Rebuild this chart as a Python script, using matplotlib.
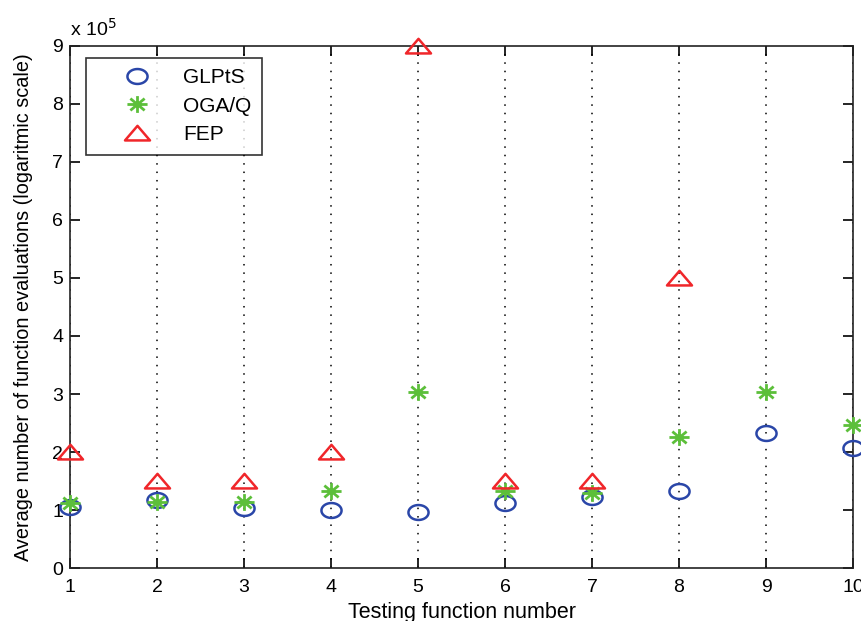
import numpy as np
import matplotlib.pyplot as plt
from matplotlib.path import Path
from matplotlib.ticker import FuncFormatter

plt.rcParams['font.family'] = ['Liberation Sans', 'DejaVu Sans']

# --- Data (average number of function evaluations) ---
functions = [1, 2, 3, 4, 5, 6, 7, 8, 9, 10]
glpts = [105000, 117000, 103000, 100000, 97000, 112000, 122000, 133000, 233000, 207000]
ogaq = [112000, 114000, 114000, 133000, 303000, 132000, 130000, 226000, 303000, 247000]
fep_x = [1, 2, 3, 4, 5, 6, 7, 8]
fep = [200000, 150000, 150000, 200000, 900000, 150000, 150000, 500000]

# MATLAB-ish markers, a bit wider than tall like in the original export
t = np.linspace(0, 2 * np.pi, 40)
ellipse = Path(np.column_stack([1.35 * np.cos(t), np.sin(t)]), closed=True)

star_verts, star_codes = [], []
for a in np.arange(4) * np.pi / 4:
    star_verts += [(-1.2 * np.cos(a), -np.sin(a)), (1.2 * np.cos(a), np.sin(a))]
    star_codes += [Path.MOVETO, Path.LINETO]
asterisk = Path(star_verts, star_codes)

triangle = Path([(0, 0.55), (-0.9, -0.5), (0.9, -0.5), (0, 0.55)], closed=True)

fig = plt.figure(figsize=(8.62, 6.21), dpi=100)
ax = fig.add_axes([0.0812, 0.0853, 0.9084, 0.8407])

ax.plot(functions, glpts, linestyle='None', marker=ellipse, markersize=14.5,
        markerfacecolor='none', markeredgecolor='#2a46a8', markeredgewidth=1.8,
        label='GLPtS', clip_on=False, zorder=3)
ax.plot(functions, ogaq, linestyle='None', marker=asterisk, markersize=14.5,
        markeredgecolor='#5cbf3a', markeredgewidth=2.0,
        label='OGA/Q', clip_on=False, zorder=3)
ax.plot(fep_x, fep, linestyle='None', marker=triangle, markersize=18,
        markerfacecolor='none', markeredgecolor='#f0262a', markeredgewidth=1.8,
        label='FEP', clip_on=False, zorder=3)

# --- Axes styling (MATLAB-like) ---
ax.set_xlim(1, 10)
ax.set_ylim(0, 900000)
ax.set_xticks(functions)
ax.set_yticks([i * 100000 for i in range(10)])
ax.yaxis.set_major_formatter(FuncFormatter(lambda v, p: f"{v / 1e5:g}"))
ax.tick_params(direction='in', length=7, width=1.2, top=True, right=True,
               labelsize=14, pad=5)
ax.tick_params(axis='x', pad=8)
for s in ax.spines.values():
    s.set_linewidth(1.2)
    s.set_color('#222222')

ax.xaxis.grid(True, linestyle=(0, (1, 4.5)), color='black', linewidth=1.1)
ax.set_axisbelow(True)

ax.text(0, 1.012, r'x 10$^5$', transform=ax.transAxes, fontsize=14,
        ha='left', va='bottom')

ax.set_xlabel('Testing function number', fontsize=15.5, labelpad=4)
ax.set_ylabel('Average number of function evaluations (logaritmic scale)',
              fontsize=14.3, labelpad=14)

leg = ax.legend(loc='upper left', bbox_to_anchor=(0.0204, 0.977), fontsize=15,
                frameon=True, fancybox=False, edgecolor='black',
                borderpad=0.5, labelspacing=0.45, handletextpad=0.25,
                borderaxespad=0, handlelength=3.9)
leg.get_frame().set_linewidth(1.2)

fig.savefig('out.png', dpi=100)
